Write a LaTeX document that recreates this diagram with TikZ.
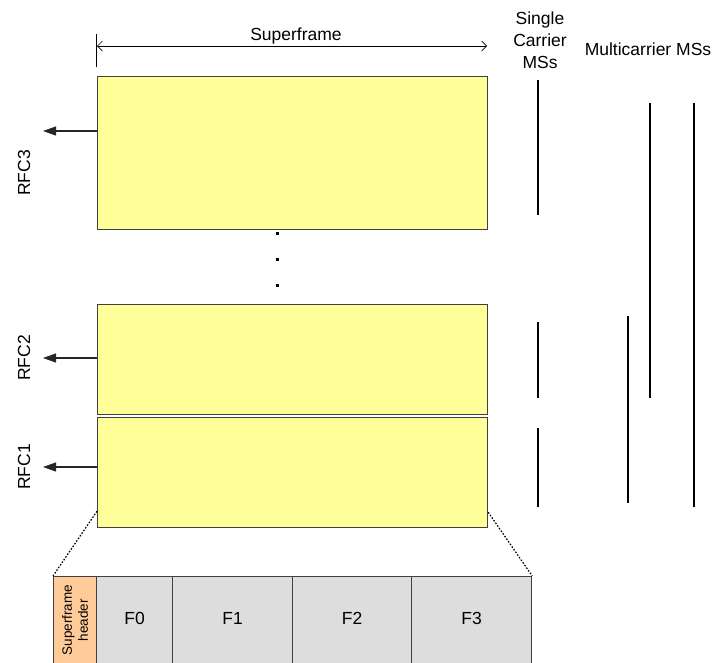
\documentclass[tikz,border=0pt]{standalone}
\usepackage{fontspec}
\setmainfont{Liberation Sans}
\usetikzlibrary{arrows.meta,calc}
\definecolor{sfyellow}{HTML}{FFFF99}
\definecolor{hdrorange}{HTML}{FFCC99}
\definecolor{cellgray}{HTML}{DDDDDD}
\definecolor{edgegray}{HTML}{404040}
\begin{document}
\begin{tikzpicture}[x=1pt,y=-1pt,
  txt/.style={font=\fontsize{17.5}{22}\selectfont, inner sep=0pt, align=center},
  smalltxt/.style={font=\fontsize{13.5}{16}\selectfont, inner sep=0pt, align=center},
  rfcbox/.style={draw=edgegray, line width=1.2pt, fill=sfyellow, inner sep=0pt, anchor=north west, minimum width=390pt},
  cell/.style={draw=edgegray, line width=1.2pt, fill=cellgray, inner sep=0pt, anchor=north west, minimum height=100pt},
  hdrcell/.style={cell, fill=hdrorange},
  rfcarrow/.style={-{Triangle[length=13pt,width=9pt]}, line width=1.1pt, black!85},
  msline/.style={line width=1.6pt, black},
  dotsq/.style={fill=black, minimum size=3pt, inner sep=0pt},
  zoomline/.style={line width=1.2pt, dash pattern=on 1.6pt off 1.6pt}
]
\useasboundingbox (0,0) rectangle (718,662);
\clip (0,0) rectangle (718,662);

% Superframe dimension
\coordinate (supL) at (97,46);
\coordinate (supR) at (487,46);
\coordinate (tickT) at (96,34);
\coordinate (tickB) at (96,67);
\draw[line width=0.9pt] (tickT) -- (tickB);
\draw[{Straight Barb[length=5pt,width=10pt]}-{Straight Barb[length=5pt,width=10pt]}, line width=0.7pt] (supL) -- (supR);
\node[txt] (suptxt) at (296,36) {Superframe};

% RFC boxes
\node[rfcbox, minimum height=153pt] (b3) at (97,76) {};
\node[rfcbox, minimum height=110pt] (b2) at (97,304) {};
\node[rfcbox, minimum height=110pt] (b1) at (97,417) {};

% dots
\node[dotsq] (d1) at (277,233) {};
\node[dotsq] (d2) at (277,259) {};
\node[dotsq] (d3) at (277,285) {};

% RFC arrows and labels
\coordinate (a3) at (43,131);
\coordinate (a2) at (43,358);
\coordinate (a1) at (43,467);
\draw[rfcarrow] (b3.west |- a3) -- (a3);
\draw[rfcarrow] (b2.west |- a2) -- (a2);
\draw[rfcarrow] (b1.west |- a1) -- (a1);
\node[txt, rotate=90] (rfc3) at (24,173) {RFC3};
\node[txt, rotate=90] (rfc2) at (24,358) {RFC2};
\node[txt, rotate=90] (rfc1) at (24,467) {RFC1};

% MS labels
\node[txt] (single) at (540,40) {Single\\Carrier\\MSs};
\node[txt] (multi) at (648,49) {Multicarrier MSs};

% MS lines
\coordinate (s3a) at (538,80);  \coordinate (s3b) at (538,215);
\coordinate (s2a) at (538,322); \coordinate (s2b) at (538,398);
\coordinate (s1a) at (538,428); \coordinate (s1b) at (538,507);
\coordinate (m1a) at (628,316); \coordinate (m1b) at (628,503);
\coordinate (m2a) at (650,103); \coordinate (m2b) at (650,398);
\coordinate (m3a) at (694,103); \coordinate (m3b) at (694,507);
\draw[msline] (s3a) -- (s3b);
\draw[msline] (s2a) -- (s2b);
\draw[msline] (s1a) -- (s1b);
\draw[msline] (m1a) -- (m1b);
\draw[msline] (m2a) -- (m2b);
\draw[msline] (m3a) -- (m3b);

% bottom frame row
\node[hdrcell, minimum width=43pt] (hdr) at (53,576) {};
\node[cell, minimum width=76pt] (f0) at (96,576) {};
\node[cell, minimum width=120pt] (f1) at (172,576) {};
\node[cell, minimum width=119pt] (f2) at (292,576) {};
\node[cell, minimum width=120pt] (f3) at (411,576) {};
\node[smalltxt, rotate=90] (hdrtxt) at (hdr.north |- 0,620) {Superframe\\header};
\node[txt] (lf0) at (f0.north |- 0,618) {F0};
\node[txt] (lf1) at (f1.north |- 0,618) {F1};
\node[txt] (lf2) at (f2.north |- 0,618) {F2};
\node[txt] (lf3) at (f3.north |- 0,618) {F3};

% zoom lines
\draw[zoomline] ($(b1.south west)+(0,-17)$) -- (hdr.north west);
\draw[zoomline] ($(b1.south east)+(0,-16)$) -- (f3.north east);
\end{tikzpicture}
\end{document}
